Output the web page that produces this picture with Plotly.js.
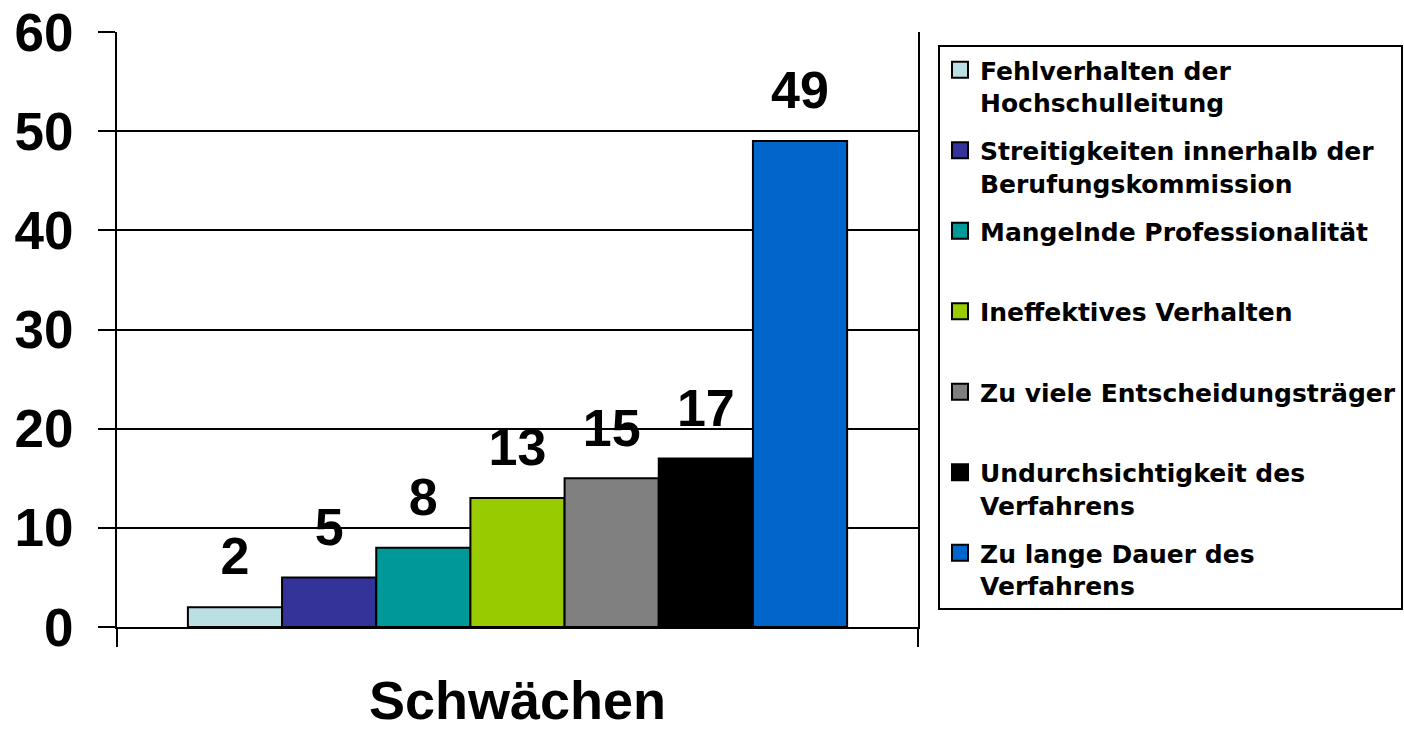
<!DOCTYPE html>
<html>
<head>
<meta charset="utf-8">
<script src="https://cdn.plot.ly/plotly-3.0.1.min.js"></script>
<style>html,body{margin:0;padding:0;background:#fff;}</style>
</head>
<body>
<div id="chart" style="width:1404px;height:729px;"></div>
<script>
// ---- data ----
const categories = ['Schwächen'];
const seriesNames = [
  'Fehlverhalten der<br>Hochschulleitung',
  'Streitigkeiten innerhalb der<br>Berufungskommission',
  'Mangelnde Professionalität<br>&nbsp;',
  'Ineffektives Verhalten<br>&nbsp;',
  'Zu viele Entscheidungsträger<br>&nbsp;',
  'Undurchsichtigkeit des<br>Verfahrens',
  'Zu lange Dauer des<br>Verfahrens'
];
const seriesValues = [2, 5, 8, 13, 15, 17, 49];
const seriesColors = ['#BBE0E3', '#333399', '#009999', '#99CC00', '#808080', '#000000', '#0066CC'];
const yTickValues = [0, 10, 20, 30, 40, 50, 60];
const yTickLabels = ['0', '10', '20', '30', '40', '50', '60'];

const FONT = 'Liberation Sans, Arial, sans-serif';
const LEGEND_FONT = 'DejaVu Sans, Liberation Sans, sans-serif';

const traces = [];
// legend entries (large square swatches), on a hidden overlay subplot
seriesNames.forEach(function (name, i) {
  traces.push({
    type: 'scatter',
    mode: 'markers',
    name: name,
    x: [null],
    y: [null],
    xaxis: 'x2',
    yaxis: 'y2',
    legendgroup: 'g' + i,
    marker: { symbol: 'square', size: 20, color: seriesColors[i], line: { color: '#000000', width: 2 } },
    hoverinfo: 'skip'
  });
});
// bars
seriesNames.forEach(function (name, i) {
  traces.push({
    type: 'bar',
    name: name,
    x: categories,
    y: [seriesValues[i]],
    legendgroup: 'g' + i,
    showlegend: false,
    marker: { color: seriesColors[i], line: { color: '#000000', width: 2 } },
    hoverinfo: 'skip'
  });
});
// value labels
seriesNames.forEach(function (name, i) {
  traces.push({
    type: 'scatter',
    mode: 'markers+text',
    x: categories,
    y: [seriesValues[i]],
    text: [String(seriesValues[i])],
    textposition: 'top center',
    textfont: { family: FONT, size: 52, color: '#000000', weight: 'bold' },
    marker: { size: 30, opacity: 0, color: '#ffffff' },
    showlegend: false,
    cliponaxis: false,
    hoverinfo: 'skip'
  });
});

const layout = {
  width: 1404,
  height: 729,
  margin: { l: 117, r: 486, t: 32, b: 102, pad: 0 },
  paper_bgcolor: '#ffffff',
  plot_bgcolor: 'rgba(0,0,0,0)',
  font: { family: FONT, color: '#000000' },
  barmode: 'group',
  bargap: 0.177,
  bargroupgap: 0,
  scattermode: 'group',
  scattergap: 0.177,
  hovermode: false,
  xaxis: {
    type: 'category',
    tickson: 'boundaries',
    ticks: 'outside',
    ticklen: 18,
    tickwidth: 2,
    tickcolor: '#000000',
    showline: true,
    linecolor: '#000000',
    linewidth: 2,
    showgrid: false,
    zeroline: false,
    tickfont: { family: FONT, size: 54, weight: 'bold', color: '#000000' },
    ticklabelstandoff: 25
  },
  yaxis: {
    range: [0, 60],
    tickvals: yTickValues,
    ticktext: yTickLabels,
    ticks: 'outside',
    ticklen: 17,
    tickwidth: 2,
    tickcolor: '#000000',
    showline: true,
    mirror: true,
    linecolor: '#000000',
    linewidth: 2,
    showgrid: true,
    gridcolor: '#000000',
    gridwidth: 2,
    zeroline: false,
    tickfont: { family: FONT, size: 53, weight: 'bold', color: '#000000' },
    ticklabelstandoff: 14
  },
  xaxis2: { overlaying: 'x', visible: false, range: [0, 1] },
  yaxis2: { overlaying: 'y', visible: false, range: [0, 1] },
  legend: {
    xref: 'container',
    yref: 'container',
    x: 938 / 1404,
    y: 1 - 45 / 729,
    xanchor: 'left',
    yanchor: 'top',
    bgcolor: '#ffffff',
    bordercolor: '#000000',
    borderwidth: 2,
    valign: 'top',
    tracegroupgap: 12.5,
    maxheight: 700,
    font: { family: LEGEND_FONT, size: 25, weight: 'bold', color: '#000000' }
  },
  showlegend: true
};

Plotly.newPlot('chart', traces, layout, { displayModeBar: false, staticPlot: true });
</script>
</body>
</html>
